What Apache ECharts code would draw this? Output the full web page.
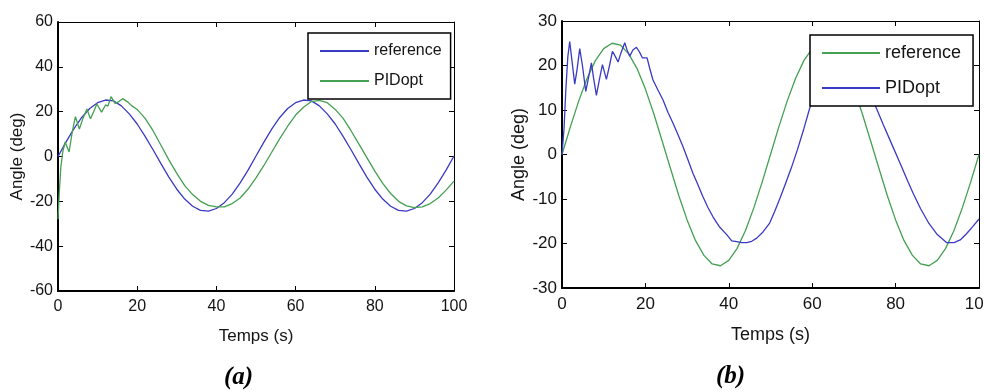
<!DOCTYPE html>
<html>
<head>
<meta charset="utf-8">
<script src="https://cdn.jsdelivr.net/npm/echarts@6/dist/echarts.min.js"></script>
<style>
  html, body { margin: 0; padding: 0; background: #fff; }
  #chart { width: 984px; height: 392px; }
</style>
</head>
<body>
<div id="chart"></div>
<script>
// ---- (a) ----
const timeA = [0,2,4,6,8,10,12,14,16,18,20,22,24,26,28,30,32,34,36,38,40,42,44,46,48,50,52,54,56,58,60,62,64,66,68,70,72,74,76,78,80,82,84,86,88,90,92,94,96,98,100];
const referenceA = [0,6.4,12.3,17.4,21.4,24.0,25.2,24.8,22.6,19.0,14.5,9.0,3.0,-3.2,-9.2,-14.6,-19.0,-22.2,-24.0,-24.4,-23.2,-20.6,-16.8,-11.8,-6.1,0.2,6.4,12.3,17.4,21.4,24.0,25.2,24.8,22.6,19.0,14.5,9.0,3.0,-3.2,-9.2,-14.6,-19.0,-22.2,-24.0,-24.4,-23.2,-20.6,-16.8,-11.8,-6.1,0.2];
const timePidA = [0,0.3,0.7,1.2,1.8,2.8,3.6,4.4,5.4,6.3,7.3,8.2,9.0,9.8,11.0,12.0,12.6,13.4,14.4,15.4,16.3,17.5,18.5,20,22,24,26,28,30,32,34,36,38,40,42,44,46,48,50,52,54,56,58,60,62,64,66,68,70,72,74,76,78,80,82,84,86,88,90,92,94,96,98,100];
const pidA = [-28,-17,-5,2,6.5,2,11,17.8,12.3,17,21.2,16.8,20,23.4,19.8,23,22.5,26.7,23.7,24.5,25.8,24.5,22.8,21,17,11.5,5,-1.5,-7.5,-13,-17,-20,-21.8,-22.5,-22.5,-21,-18.5,-14.5,-9.5,-4,2,8,13.5,18.5,22,24.5,25,24,21,17,11.5,5.5,-0.5,-6.5,-12,-16.5,-20,-22,-22.8,-22.5,-21,-18.5,-15,-11];

// ---- (b) ----
const timeB = [0,2,4,6,8,10,12,14,16,18,20,22,24,26,28,30,32,34,36,38,40,42,44,46,48,50,52,54,56,58,60,62,64,66,68,70,72,74,76,78,80,82,84,86,88,90,92,94,96,98,100];
const referenceB = [0,6.2,12.0,17.1,21.1,23.8,25.0,24.6,22.6,19.3,14.7,9.2,3.1,-3.1,-9.2,-14.7,-19.3,-22.6,-24.6,-25.0,-23.8,-21.1,-17.1,-12.0,-6.2,0,6.2,12.0,17.1,21.1,23.8,25.0,24.6,22.6,19.3,14.7,9.2,3.1,-3.1,-9.2,-14.7,-19.3,-22.6,-24.6,-25.0,-23.8,-21.1,-17.1,-12.0,-6.2,0];
const timePidB = [0,0.5,0.9,1.4,1.85,2.4,3.05,3.6,4.25,4.9,5.7,6.3,7.05,7.6,8.25,9.0,9.7,10.65,11.4,12.1,12.8,13.45,14.2,15.05,15.6,16.25,17.0,17.85,18.6,19.3,20.4,21,21.8,23,24.2,25.4,26.6,27.8,29,30.2,31.4,32.6,33.8,35,36.2,37.8,39.5,40.7,41.9,43.1,44.3,45.5,46.7,48.2,49.8,51,52.2,53.5,55,56.5,58,59.4,61,63,65,67,69,71,73,75.4,77,79,81,83,84.2,86,88,90,92.2,94,95.5,97,98.5,100];
const pidB = [0,6,14.2,22,25.4,21,15.8,19,23.8,20,14.2,17,20.6,17,13.3,17,20.2,16.9,20,23.2,22,20.8,23,25.1,23.5,22.1,23.5,24.1,23,21.7,21.7,19.5,16.8,14.5,12.3,9.5,7.1,4.5,1.8,-1.2,-4.2,-6.8,-9.5,-11.9,-14,-16.3,-18,-19.4,-19.6,-19.8,-19.8,-19.5,-18.8,-17.4,-15.4,-12.8,-10,-6.8,-3,1.2,5.8,10.4,14.5,18.5,21,21.8,21,18.5,14.8,10.4,6.8,2.5,-1.8,-6.2,-8.7,-12.2,-15.5,-18,-19.8,-19.8,-19.2,-17.8,-16.2,-14.5];

const BLUE = '#3a3ac4';
const GREEN = '#45a052';
const FONT = '"Liberation Sans", Arial, sans-serif';
const INK = '#141414';

function pairs(xs, ys) { return xs.map((x, i) => [x, ys[i]]); }

// Boxed axes: labelled bottom/left axes plus bare mirrored top/right axes
function frameAxes(gridIndex, dim, min, max, interval, fontSize, nameSize, name, nameGap) {
  const main = {
    gridIndex, type: 'value', min, max, interval,
    axisLine: { onZero: false, lineStyle: { color: '#000', width: 2 } },
    axisTick: { inside: true, length: 5, lineStyle: { color: '#000', width: 1 } },
    axisLabel: { color: INK, fontSize, fontFamily: FONT, margin: dim === 'x' ? 8 : 5 },
    splitLine: { show: false },
    name, nameLocation: 'middle', nameGap,
    nameTextStyle: { color: INK, fontSize: nameSize, fontFamily: FONT }
  };
  const mirror = {
    gridIndex, type: 'value', min, max, interval,
    position: dim === 'x' ? 'top' : 'right',
    axisLine: { onZero: false, lineStyle: { color: '#000', width: 1 } },
    axisTick: { inside: true, length: 5, lineStyle: { color: '#000', width: 1 } },
    axisLabel: { show: false },
    splitLine: { show: false }
  };
  return [main, mirror];
}

function lineSeries(name, xIdx, yIdx, data, color) {
  return {
    type: 'line', name, xAxisIndex: xIdx, yAxisIndex: yIdx, data,
    symbol: 'none', smooth: false, animation: false,
    lineStyle: { color, width: 1.3 }, itemStyle: { color }
  };
}

function boxLegend(names, left, top, padding, itemGap, itemWidth, itemHeight, fontSize) {
  return {
    data: names,
    formatter: n => n.split('|')[0],
    orient: 'vertical', left, top, padding, itemGap, itemWidth, itemHeight,
    itemStyle: { opacity: 0 },
    backgroundColor: '#fff', borderColor: '#000', borderWidth: 1.5, borderRadius: 0,
    textStyle: { color: INK, fontSize, fontFamily: FONT },
    selectedMode: false
  };
}

const chart = echarts.init(document.getElementById('chart'), null, { renderer: 'canvas' });

chart.setOption({
  backgroundColor: '#fff',
  animation: false,
  grid: [
    { left: 58, top: 22, width: 396, height: 269, containLabel: false, outerBoundsMode: 'none' },
    { left: 562, top: 21, width: 417, height: 267, containLabel: false, outerBoundsMode: 'none' }
  ],
  xAxis: [
    ...frameAxes(0, 'x', 0, 100, 20, 16, 17, 'Temps (s)', 37),
    ...frameAxes(1, 'x', 0, 100, 20, 17, 18, 'Temps (s)', 38)
  ],
  yAxis: [
    ...frameAxes(0, 'y', -60, 60, 20, 16, 17, 'Angle (deg)', 31),
    ...frameAxes(1, 'y', -30, 30, 10, 17, 18, 'Angle (deg)', 26)
  ],
  legend: [
    boxLegend(['reference', 'PIDopt'], 308, 33, [10, 9, 10, 11], 14, 49, 16, 16),
    boxLegend(['reference|b', 'PIDopt|b'], 810, 35, [9, 12, 9, 11], 17, 58, 18, 18)
  ],
  series: [
    lineSeries('reference', 0, 0, pairs(timeA, referenceA), BLUE),
    lineSeries('PIDopt', 0, 0, pairs(timePidA, pidA), GREEN),
    lineSeries('reference|b', 2, 2, pairs(timeB, referenceB), GREEN),
    lineSeries('PIDopt|b', 2, 2, pairs(timePidB, pidB), BLUE)
  ],
  graphic: [
    { type: 'text', left: 224, top: 365, style: { text: '(a)', font: 'italic bold 25px "Liberation Serif", serif', fill: '#000' } },
    { type: 'text', left: 716, top: 364, style: { text: '(b)', font: 'italic bold 25px "Liberation Serif", serif', fill: '#000' } }
  ]
});
</script>
</body>
</html>
